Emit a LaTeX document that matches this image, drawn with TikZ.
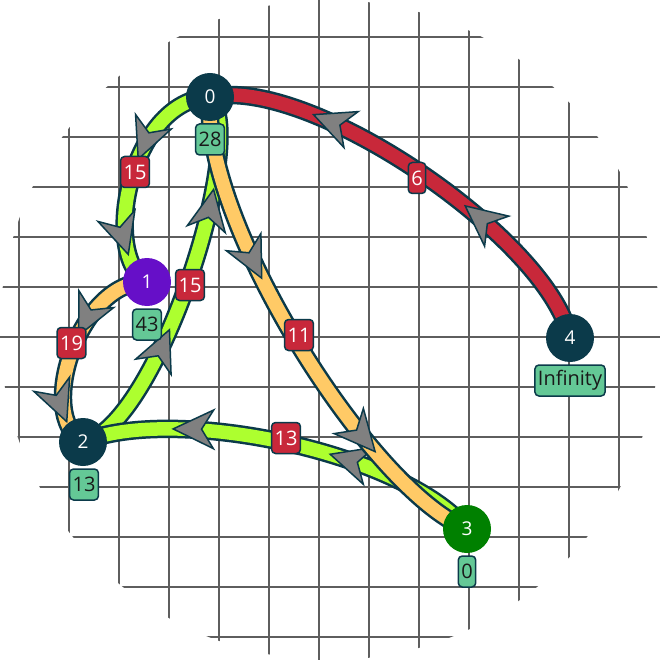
\documentclass[tikz,border=0pt]{standalone}
\usepackage{fontspec}
\setmainfont{Open Sans}
\usetikzlibrary{arrows.meta,decorations.markings}
\definecolor{dkteal}{HTML}{0B3A4A}
\definecolor{purp}{HTML}{660FC8}
\definecolor{gnode}{HTML}{008000}
\definecolor{lgreen}{HTML}{ADFF2F}
\definecolor{lorange}{HTML}{FFCA66}
\definecolor{ered}{HTML}{C8283A}
\definecolor{boxgreen}{HTML}{64C896}
\definecolor{gridgray}{HTML}{5E5E5E}
\tikzset{
  myarr/.tip={Stealth[length=44pt,width=42pt,inset=13pt,fill=gray,color=dkteal,line width=1.5pt]},
  gridline/.style={draw=gridgray, line width=1.5pt},
  vertex/.style={circle, minimum size=48pt, inner sep=0pt, text=white, font=\fontsize{19}{19}\selectfont},
  distbox/.style={draw=dkteal, line width=1.5pt, fill=boxgreen, rounded corners=4pt, minimum height=31pt, inner xsep=3pt, inner ysep=0pt, text=black!90, font=\fontsize{20}{20}\selectfont},
  wlabel/.style={draw=dkteal, line width=1.5pt, fill=ered, rounded corners=4pt, minimum height=31pt, inner xsep=3pt, inner ysep=0pt, text=white, font=\fontsize{20}{20}\selectfont},
  conn/.style n args={3}{draw=#1, line width=13.5pt,
    preaction={draw=dkteal, line width=18.5pt},
    postaction={decorate, decoration={markings,
      mark=at position #2 with {\arrow{myarr}},
      mark=at position #3 with {\arrow{myarr}}}}}
}
\begin{document}
\begin{tikzpicture}[x=1pt,y=-1pt]
\useasboundingbox (0,0) rectangle (660,660);
% grid
\begin{scope}
\clip (330,330) circle [radius=330pt];
\foreach \i in {0,...,12} {
  \draw[gridline] ({19+50*\i},0) -- ({19+50*\i},660);
  \draw[gridline] (0,{37+50*\i}) -- (660,{37+50*\i});
}
\end{scope}
% node positions
\coordinate (p0) at (210,97);
\coordinate (p1) at (147,282);
\coordinate (p2) at (83,442);
\coordinate (p3) at (467,529);
\coordinate (p4) at (570,338);
% edges
\draw[conn={ered}{0.38}{0.77}] (p4) .. controls (550,240) and (310,75) .. (p0);
\draw[conn={lgreen}{0.44}{0.86}] (p0) .. controls (130,100) and (100,255) .. (p1);
\draw[conn={lorange}{0.45}{0.88}] (p1) .. controls (80,280) and (35,415) .. (p2);
\draw[conn={lgreen}{0.38}{0.76}] (p2) .. controls (155,430) and (250,140) .. (p0);
\draw[conn={lgreen}{0.39}{0.78}] (p3) .. controls (400,450) and (170,405) .. (p2);
\draw[conn={lorange}{0.37}{0.77}] (p0) .. controls (200,220) and (370,490) .. (p3);
% edge labels
\node[wlabel] (w40) at (417,178) {6};
\node[wlabel] (w01) at (135,172) {15};
\node[wlabel] (w12) at (71.5,343) {19};
\node[wlabel] (w20) at (190,285) {15};
\node[wlabel] (w32) at (286,438) {13};
\node[wlabel] (w03) at (299,335) {11};
% nodes
\node[vertex, fill=dkteal] (n0) at (p0) {0};
\node[vertex, fill=purp] (n1) at (p1) {1};
\node[vertex, fill=dkteal] (n2) at (p2) {2};
\node[vertex, fill=gnode] (n3) at (p3) {3};
\node[vertex, fill=dkteal] (n4) at (p4) {4};
% distance boxes
\node[distbox] (d0) at (210,139.5) {28};
\node[distbox] (d1) at (147,324.5) {43};
\node[distbox] (d2) at (84,484.5) {13};
\node[distbox] (d3) at (467,571.5) {0};
\node[distbox] (d4) at (570,380.5) {Infinity};
\end{tikzpicture}
\end{document}
